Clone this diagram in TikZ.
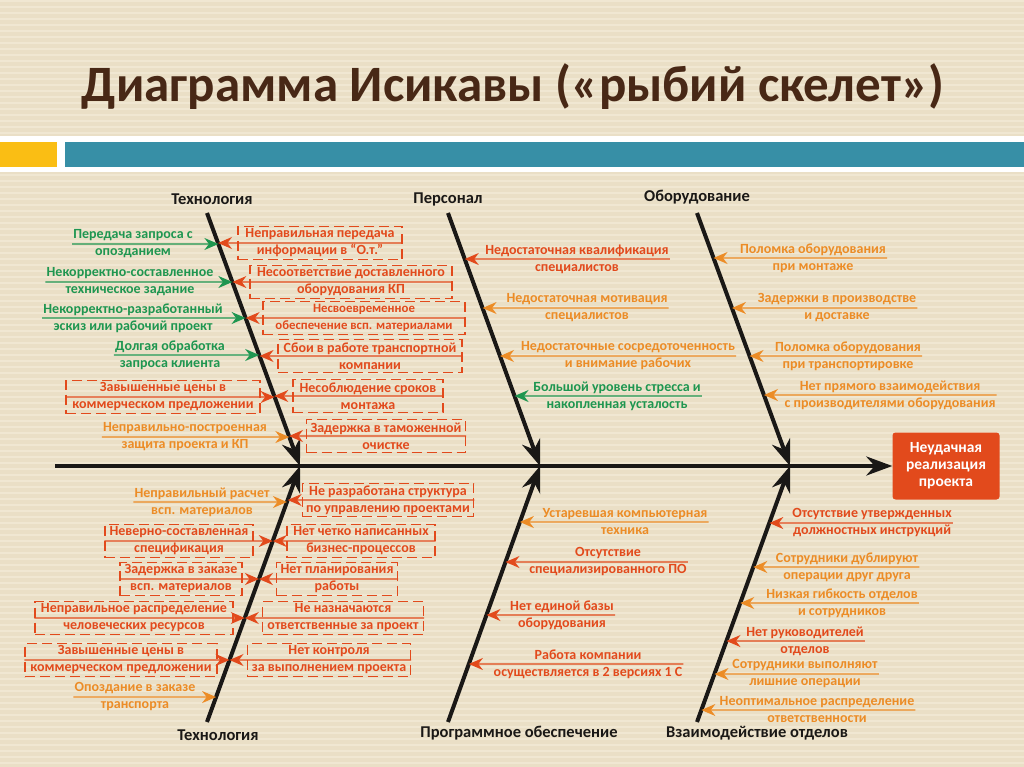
\documentclass[tikz,border=0pt]{standalone}
\usepackage{fontspec}
\setmainfont{Carlito}
\usetikzlibrary{arrows.meta}

\definecolor{bgbeige}{RGB}{234,223,198}
\definecolor{bgstripe}{RGB}{240,231,210}
\definecolor{ftitle}{RGB}{72,40,22}
\definecolor{fteal}{RGB}{55,143,166}
\definecolor{fyellow}{RGB}{250,190,20}
\definecolor{fred}{RGB}{226,74,28}
\definecolor{forange}{RGB}{236,140,38}
\definecolor{fgreen}{RGB}{30,150,80}
\definecolor{fblack}{RGB}{26,24,22}

\begin{document}
\begin{tikzpicture}[
				x=1pt, y=-1pt,
				lab/.style={align=center, inner sep=1pt, font=\bfseries\fontsize{14}{17}\selectfont},
				causebox/.style={lab, draw, line width=1.2pt, dash pattern=on 10pt off 5pt, inner xsep=4pt, inner ysep=0.5pt, minimum height=33pt},
				headlbl/.style={font=\bfseries\fontsize{16.5}{18}\selectfont, text=fblack},
				tip/.style={line width=1.4pt, -{Stealth[length=14pt,width=12pt]}},
				bone/.style={draw=fblack, line width=4pt, -{Stealth[length=26pt,width=19pt]}},
				goal/.style={fill=fred, text=white, rounded corners=3pt, align=center, minimum width=107pt, minimum height=67pt, font=\bfseries\fontsize{15.5}{17}\selectfont}
				]
				
				% background and header
				\useasboundingbox (0,0) rectangle (1024,767);
				\fill[bgbeige] (0,0) rectangle (1024,767);
				\foreach \yy in {0,6,...,762}
					\fill[bgstripe] (0,\yy) rectangle (1024,\yy+2);
				\node[font=\bfseries\fontsize{51}{54}\selectfont, text=ftitle] (title) at (513,87) {Диаграмма Исикавы («рыбий скелет»)};
				\fill[white] (0,136) rectangle (1024,172);
				\fill[fyellow] (0,142) rectangle (57,167);
				\fill[fteal] (65,142) rectangle (1024,167);
				
				% skeleton
				\coordinate (tail) at (55,466);
				\coordinate (j1) at (300,466);
				\coordinate (j2) at (540,466);
				\coordinate (j3) at (790,466);
				\coordinate (t1) at (207,213);
				\coordinate (p1) at (448,213);
				\coordinate (o1) at (697,213);
				\coordinate (t2) at (207,722);
				\coordinate (s1) at (448,722);
				\coordinate (w1) at (697,722);
				\node[goal] (goal) at (946,466) {Неудачная\\реализация\\проекта};
				\draw[bone] (tail) -- (goal.west);
				\draw[bone] (t1) -- (j1);
				\draw[bone] (p1) -- (j2);
				\draw[bone] (o1) -- (j3);
				\draw[bone] (t2) -- (j1);
				\draw[bone] (s1) -- (j2);
				\draw[bone] (w1) -- (j3);
				
				\node[headlbl] (ht) at (212,199) {Технология};
				\node[headlbl] (hp) at (448,199) {Персонал};
				\node[headlbl] (ho) at (697,197) {Оборудование};
				\node[headlbl] (hb) at (218,735) {Технология};
				\node[headlbl] (hs) at (519,733) {Программное обеспечение};
				\node[headlbl] (hw) at (757,733) {Взаимодействие отделов};
				
				% upper Технология
				\node[lab, fgreen] (a1) at (133,244) {Передача запроса с\\опозданием};
				\node[lab, fgreen] (a2) at (130,282) {Некорректно-составленное\\техническое задание};
				\node[lab, fgreen] (a3) at (133,318) {Некорректно-разработанный\\эскиз или рабочий проект};
				\node[lab, fgreen] (a4) at (170,355) {Долгая обработка\\запроса клиента};
				\node[causebox, fred, minimum width=194pt] (a5) at (163,397) {Завышенные цены в\\коммерческом предложении};
				\node[lab, forange] (a6) at (185,437) {Неправильно-построенная\\защита проекта и КП};
				\node[causebox, fred, minimum width=164pt] (b1) at (320,243) {Неправильная передача\\информации в “О.т.”};
				\node[causebox, fred, minimum width=202pt] (b2) at (351,282) {Несоответствие доставленного\\оборудования КП};
				\node[causebox, fred, minimum width=202pt, font=\bfseries\fontsize{12.8}{17}\selectfont] (b3) at (364,318) {Несвоевременное\\обеспечение всп. материалами};
				\node[causebox, fred, minimum width=184pt] (b4) at (370,356) {Сбои в работе транспортной\\компании};
				\node[causebox, fred, minimum width=150pt] (b5) at (368,396) {Несоблюдение сроков\\монтажа};
				\node[causebox, fred, minimum width=158pt] (b6) at (386,436) {Задержка в таможенной\\очистке};
				\draw[tip, fgreen] (a1.west) -- (intersection of t1--j1 and a1.west--a1.east);
				\draw[tip, fgreen] (a2.west) -- (intersection of t1--j1 and a2.west--a2.east);
				\draw[tip, fgreen] (a3.west) -- (intersection of t1--j1 and a3.west--a3.east);
				\draw[tip, fgreen] (a4.west) -- (intersection of t1--j1 and a4.west--a4.east);
				\draw[tip, fred] (a5.west) -- (intersection of t1--j1 and a5.west--a5.east);
				\draw[tip, forange] (a6.west) -- (intersection of t1--j1 and a6.west--a6.east);
				\draw[tip, fred] (b1.east) -- (intersection of t1--j1 and b1.west--b1.east);
				\draw[tip, fred] (b2.east) -- (intersection of t1--j1 and b2.west--b2.east);
				\draw[tip, fred] (b3.east) -- (intersection of t1--j1 and b3.west--b3.east);
				\draw[tip, fred] (b4.east) -- (intersection of t1--j1 and b4.west--b4.east);
				\draw[tip, fred] (b5.east) -- (intersection of t1--j1 and b5.west--b5.east);
				\draw[tip, fred] (b6.east) -- (intersection of t1--j1 and b6.west--b6.east);
				
				% Персонал
				\node[lab, fred] (c1) at (577,259) {Недостаточная квалификация\\специалистов};
				\node[lab, forange] (c2) at (587,308) {Недостаточная мотивация\\специалистов};
				\node[lab, forange] (c3) at (628,356) {Недостаточные сосредоточенность\\и внимание рабочих};
				\node[lab, fgreen] (c4) at (617,396) {Большой уровень стресса и\\накопленная усталость};
				\draw[tip, fred] (c1.east) -- (intersection of p1--j2 and c1.west--c1.east);
				\draw[tip, forange] (c2.east) -- (intersection of p1--j2 and c2.west--c2.east);
				\draw[tip, forange] (c3.east) -- (intersection of p1--j2 and c3.west--c3.east);
				\draw[tip, fgreen] (c4.east) -- (intersection of p1--j2 and c4.west--c4.east);
				
				% Оборудование
				\node[lab, forange] (d1) at (813,258) {Поломка оборудования\\при монтаже};
				\node[lab, forange] (d2) at (837,308) {Задержки в производстве\\и доставке};
				\node[lab, forange] (d3) at (848,356) {Поломка оборудования\\при транспортировке};
				\node[lab, forange] (d4) at (890,395) {Нет прямого взаимодействия\\с производителями оборудования};
				\draw[tip, forange] (d1.east) -- (intersection of o1--j3 and d1.west--d1.east);
				\draw[tip, forange] (d2.east) -- (intersection of o1--j3 and d2.west--d2.east);
				\draw[tip, forange] (d3.east) -- (intersection of o1--j3 and d3.west--d3.east);
				\draw[tip, forange] (d4.east) -- (intersection of o1--j3 and d4.west--d4.east);
				
				% lower Технология
				\node[lab, forange] (e1) at (202,502) {Неправильный расчет\\всп. материалов};
				\node[causebox, fred, minimum width=148pt] (e2) at (179,541) {Неверно-составленная\\спецификация};
				\node[causebox, fred, minimum width=122pt] (e3) at (181,579) {Задержка в заказе\\всп. материалов};
				\node[causebox, fred, minimum width=198pt] (e4) at (134,618) {Неправильное распределение\\человеческих ресурсов};
				\node[causebox, fred, minimum width=192pt] (e5) at (121,660) {Завышенные цены в\\коммерческом предложении};
				\node[lab, forange] (e6) at (135,697) {Опоздание в заказе\\транспорта};
				\node[causebox, fred, minimum width=169pt] (f1) at (388,500) {Не разработана структура\\по управлению проектами};
				\node[causebox, fred, minimum width=148pt] (f2) at (361,541) {Нет четко написанных\\бизнес-процессов};
				\node[causebox, fred, minimum width=120pt] (f3) at (337,579) {Нет планирования\\работы};
				\node[causebox, fred, minimum width=161pt] (f4) at (343,618) {Не назначаются\\ответственные за проект};
				\node[causebox, fred, minimum width=163pt] (f5) at (329,660) {Нет контроля\\за выполнением проекта};
				\draw[tip, forange] (e1.west) -- (intersection of t2--j1 and e1.west--e1.east);
				\draw[tip, fred] (e2.west) -- (intersection of t2--j1 and e2.west--e2.east);
				\draw[tip, fred] (e3.west) -- (intersection of t2--j1 and e3.west--e3.east);
				\draw[tip, fred] (e4.west) -- (intersection of t2--j1 and e4.west--e4.east);
				\draw[tip, fred] (e5.west) -- (intersection of t2--j1 and e5.west--e5.east);
				\draw[tip, forange] (e6.west) -- (intersection of t2--j1 and e6.west--e6.east);
				\draw[tip, fred] (f1.east) -- (intersection of t2--j1 and f1.west--f1.east);
				\draw[tip, fred] (f2.east) -- (intersection of t2--j1 and f2.west--f2.east);
				\draw[tip, fred] (f3.east) -- (intersection of t2--j1 and f3.west--f3.east);
				\draw[tip, fred] (f4.east) -- (intersection of t2--j1 and f4.west--f4.east);
				\draw[tip, fred] (f5.east) -- (intersection of t2--j1 and f5.west--f5.east);
				
				% Программное обеспечение
				\node[lab, forange] (g1) at (625,522) {Устаревшая компьютерная\\техника};
				\node[lab, fred] (g2) at (608,562) {Отсутствие\\специализированного ПО};
				\node[lab, fred] (g3) at (562,615) {Нет единой базы\\оборудования};
				\node[lab, fred] (g4) at (588,664) {Работа компании\\осуществляется в 2 версиях 1 С};
				\draw[tip, forange] (g1.east) -- (intersection of s1--j2 and g1.west--g1.east);
				\draw[tip, fred] (g2.east) -- (intersection of s1--j2 and g2.west--g2.east);
				\draw[tip, fred] (g3.east) -- (intersection of s1--j2 and g3.west--g3.east);
				\draw[tip, fred] (g4.east) -- (intersection of s1--j2 and g4.west--g4.east);
				
				% Взаимодействие отделов
				\node[lab, fred] (h1) at (872,523) {Отсутствие утвержденных\\должностных инструкций};
				\node[lab, forange] (h2) at (847,567) {Сотрудники дублируют\\операции друг друга};
				\node[lab, forange] (h3) at (842,603) {Низкая гибкость отделов\\и сотрудников};
				\node[lab, fred] (h4) at (805,641) {Нет руководителей\\отделов};
				\node[lab, forange] (h5) at (805,674) {Сотрудники выполняют\\лишние операции};
				\node[lab, forange] (h6) at (817,710) {Неоптимальное распределение\\ответственности};
				\draw[tip, fred] (h1.east) -- (intersection of w1--j3 and h1.west--h1.east);
				\draw[tip, forange] (h2.east) -- (intersection of w1--j3 and h2.west--h2.east);
				\draw[tip, forange] (h3.east) -- (intersection of w1--j3 and h3.west--h3.east);
				\draw[tip, fred] (h4.east) -- (intersection of w1--j3 and h4.west--h4.east);
				\draw[tip, forange] (h5.east) -- (intersection of w1--j3 and h5.west--h5.east);
				\draw[tip, forange] (h6.east) -- (intersection of w1--j3 and h6.west--h6.east);
				
			\end{tikzpicture}
\end{document}
